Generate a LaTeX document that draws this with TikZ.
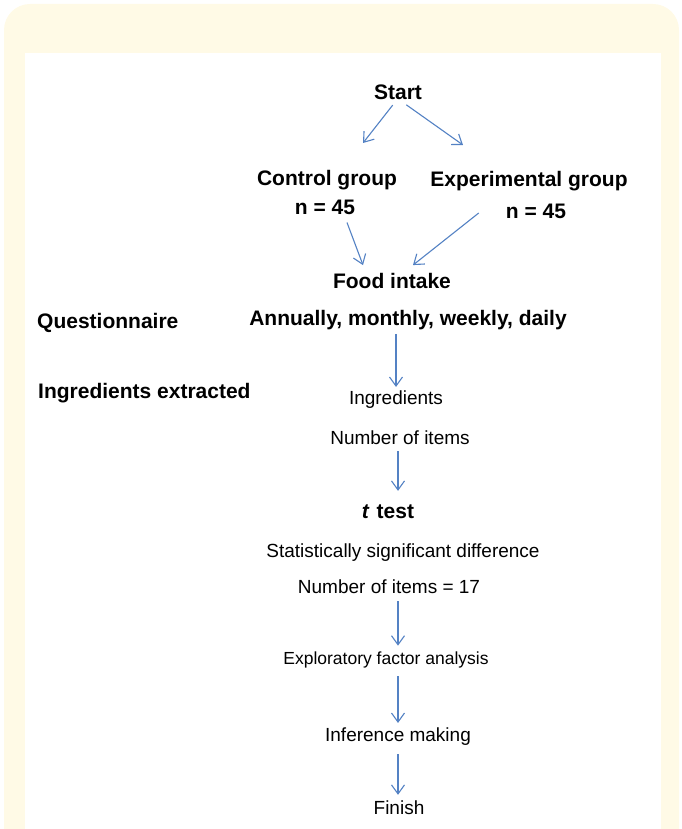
\documentclass[tikz,border=0pt]{standalone}
\usepackage{fontspec}
\setmainfont{Liberation Sans}
\usetikzlibrary{arrows.meta}

\definecolor{paleyellow}{RGB}{255,250,230}
\definecolor{flowblue}{RGB}{84,130,196}

\tikzset{
  big/.style={inner sep=0pt, font=\fontsize{21}{24}\selectfont\bfseries},
  small/.style={inner sep=0pt, font=\fontsize{19}{22}\selectfont},
  flow/.style={draw=flowblue, line width=1.1pt, -{Straight Barb[length=9pt,width=13pt,line width=1.1pt]}}
}

\begin{document}
\begin{tikzpicture}[x=1pt,y=-1pt]
          %Rahmen
          \clip (0,0) rectangle (681,829);
          \fill[paleyellow, rounded corners=26pt] (4,4) rectangle (679,880);
          \fill[white] (25,53) rectangle (661,829);

          %Knoten
          \node[big] (start) at (398,92) {Start};
          \node[big] (ctrl) at (327,180) {Control group};
          \node[big] (ctrln) at (325,207) {n = 45};
          \node[big] (exp) at (529,181) {Experimental group};
          \node[big] (expn) at (536,211) {n = 45};
          \node[big] (food) at (392,281) {Food intake};
          \node[big, anchor=west] (quest) at (37,323) {Questionnaire};
          \node[big] (freq) at (408,320) {Annually, monthly, weekly, daily};
          \node[big, anchor=west] (ingext) at (38,393) {Ingredients extracted};
          \node[small] (ingr) at (396,400) {Ingredients};
          \node[small] (nitems) at (400,438) {Number of items};
          \node[big] (ttest) at (388,512) {\textit{t}\hspace{7pt}test};
          \node[small] (sigdiff) at (403,553) {Statistically significant difference};
          \node[small] (nitems17) at (389,587) {Number of items = 17};
          \node[small, font=\fontsize{17.5}{21}\selectfont] (efa) at (386,660) {Exploratory factor analysis};
          \node[small] (infer) at (398,737) {Inference making};
          \node[small] (finish) at (399,808) {Finish};

          \coordinate (ctrltip) at (363,143);
          \coordinate (exptip) at (463,145);

          %Pfeile
          \draw[flow, shorten <=7pt] ([xshift=-1pt]start.south) -- (ctrltip);
          \draw[flow, shorten <=9pt] ([xshift=1pt]start.south) -- (exptip);
          \draw[flow] ([xshift=22pt,yshift=-8pt]ctrln.south) -- ([xshift=-29pt,yshift=8pt]food.north);
          \draw[flow] ([xshift=-27pt,yshift=-2pt]expn.west) -- ([xshift=21pt,yshift=8pt]food.north);
          \draw[flow, shorten <=4pt, shorten >=4pt] (freq.south -| ingr.north) -- (ingr.north);
          \draw[flow, shorten <=6pt, shorten >=14pt] (nitems.south -| infer.north) -- (ttest.north -| infer.north);
          \draw[flow, shorten <=7pt, shorten >=6pt] (nitems17.south -| infer.north) -- (efa.north -| infer.north);
          \draw[flow, shorten <=8pt, shorten >=5pt] (efa.south -| infer.north) -- (infer.north);
          \draw[flow, shorten <=8pt, shorten >=6pt] (infer.south) -- (finish.north -| infer.south);
\end{tikzpicture}
\end{document}
